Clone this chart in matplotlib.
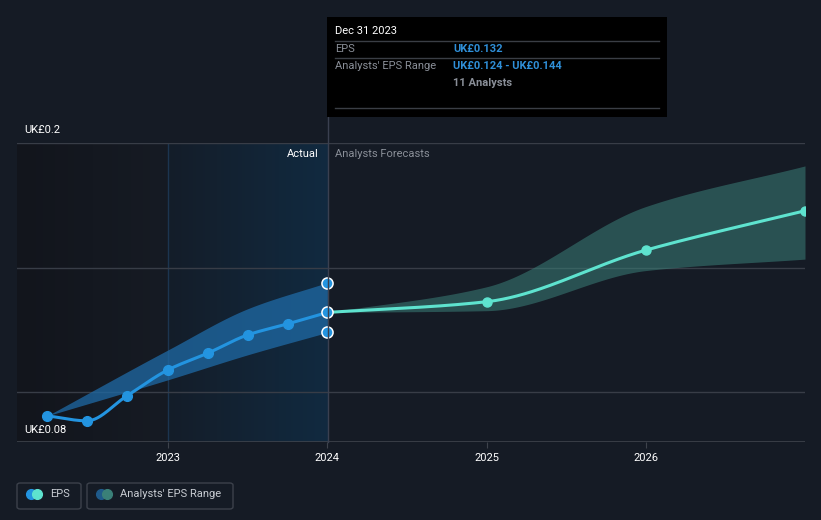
import numpy as np
import matplotlib
matplotlib.use("Agg")
import matplotlib.pyplot as plt
from matplotlib.patches import FancyBboxPatch, Rectangle
from matplotlib.lines import Line2D

plt.rcParams['font.family'] = ['Roboto', 'DejaVu Sans']

# actual EPS (quarterly, trailing)
act_x = [2022.24, 2022.49, 2022.74, 2023.0, 2023.25, 2023.5, 2023.75, 2024.0]
act_y = [0.0905, 0.0885, 0.0985, 0.109, 0.1157, 0.123, 0.1274, 0.132]
# analysts' range over the actual period
act_rng_x = [2022.24, 2023.0, 2023.5, 2024.0]
act_lo = [0.0905, 0.105, 0.115, 0.124]
act_hi = [0.0905, 0.117, 0.1335, 0.144]

# forecasts
fc_x = [2024.0, 2025.0, 2026.0, 2027.0]
fc_y = [0.132, 0.1363, 0.157, 0.1728]
fc_lo = [0.132, 0.1327, 0.1488, 0.1534]
fc_hi = [0.132, 0.1423, 0.1745, 0.1908]

year_ticks = [2023, 2024, 2025, 2026]

BG = '#151b25'
W, H = 821, 520


def pchip(x, y, n=200):
    x = np.asarray(x, float)
    y = np.asarray(y, float)
    h = np.diff(x)
    d = np.diff(y) / h
    m = np.zeros_like(y)
    m[0], m[-1] = d[0], d[-1]
    for k in range(1, len(x) - 1):
        if d[k - 1] * d[k] > 0:
            w1 = 2 * h[k] + h[k - 1]
            w2 = h[k] + 2 * h[k - 1]
            m[k] = (w1 + w2) / (w1 / d[k - 1] + w2 / d[k])
    xs = np.linspace(x[0], x[-1], n)
    idx = np.clip(np.searchsorted(x, xs) - 1, 0, len(x) - 2)
    t = (xs - x[idx]) / h[idx]
    h00 = 2 * t**3 - 3 * t**2 + 1
    h10 = t**3 - 2 * t**2 + t
    h01 = -2 * t**3 + 3 * t**2
    h11 = t**3 - t**2
    ys = h00 * y[idx] + h10 * h[idx] * m[idx] + h01 * y[idx + 1] + h11 * h[idx] * m[idx + 1]
    return xs, ys


fig = plt.figure(figsize=(W / 100, H / 100), dpi=100)
fig.patch.set_facecolor(BG)
ax = fig.add_axes([17 / W, (H - 442) / H, 788 / W, 299 / H])
ax.set_facecolor(BG)
x0, x1 = 2022.05, 2027.0
y0, y1 = 0.08, 0.2
ax.set_xlim(x0, x1)
ax.set_ylim(y0, y1)

# background shading
g = np.linspace(0, 1, 256).reshape(1, -1)
dark = matplotlib.colors.LinearSegmentedColormap.from_list('d', ['#12151c', '#161b24'])
ax.imshow(g, cmap=dark, extent=[x0, 2023.0, y0, y1], aspect='auto', zorder=0,
          interpolation='bilinear')
blue = matplotlib.colors.LinearSegmentedColormap.from_list('b', ['#141d29', '#112a40'])
ax.imshow(g, cmap=blue, extent=[2023.0, 2024.0, y0, y1], aspect='auto', zorder=0,
          interpolation='bilinear')
ax.axvline(2023.0, color='#1c3550', lw=1, zorder=1)

# gridlines
for v in [0.1, 0.15, 0.2]:
    ax.axhline(v, color='#383d47', lw=1, zorder=1)
ax.axhline(0.08, color='#3e434c', lw=1.2, zorder=1)

# ranges
xs, lo = pchip(act_rng_x, act_lo)
_, hi = pchip(act_rng_x, act_hi)
ax.fill_between(xs, lo, hi, color='#1f6aa6', alpha=0.75, lw=0, zorder=2)
xs, lo = pchip(fc_x, fc_lo)
_, hi = pchip(fc_x, fc_hi)
ax.fill_between(xs, lo, hi, color='#3a7f78', alpha=0.55, lw=0, zorder=2)

# lines
xs, ys = pchip(fc_x, fc_y)
ax.plot(xs, ys, color='#5ee3cf', lw=2.2, zorder=3, solid_capstyle='round')
ax.plot(fc_x[1:], fc_y[1:], 'o', color='#5ee3cf', ms=6.5, zorder=4)
xs, ys = pchip(act_x, act_y)
ax.plot(xs, ys, color='#2394e0', lw=2.2, zorder=3, solid_capstyle='round')
ax.plot(act_x[:-1], act_y[:-1], 'o', color='#2394e0', ms=7, zorder=4)
ax.plot([2024.0] * 3, [act_y[-1], act_lo[-1], act_hi[-1]], 'o', color='#2394e0',
        mec='white', mew=1.1, ms=8, zorder=5)

ax.set_xticks(year_ticks)
ax.set_xticklabels([str(y) for y in year_ticks])
ax.tick_params(axis='x', colors='#3e434c', labelcolor='white', labelsize=8, length=4, pad=4)
ax.set_yticks([])
for s in ax.spines.values():
    s.set_visible(False)

# axis labels
fig.text(24 / W, 1 - 130 / H, 'UK£0.2', color='white', fontsize=8, va='center')
fig.text(24 / W, 1 - 430 / H, 'UK£0.08', color='white', fontsize=8, va='center')
fig.text(319 / W, 1 - 154 / H, 'Actual', color='white', fontsize=8, va='center', ha='right')
fig.text(335 / W, 1 - 154 / H, 'Analysts Forecasts', color='#8a8f98', fontsize=8, va='center')

# divider line through the tooltip
fig.add_artist(Line2D([327.5 / W, 327.5 / W], [1 - 442 / H, 1 - 117 / H], color='#3a4050', lw=1))

# tooltip
fig.add_artist(Rectangle((327 / W, 1 - 117 / H), 340 / W, 100 / H, transform=fig.transFigure,
                         facecolor='black', edgecolor='none', zorder=5))
for yy in [41, 58, 108]:
    fig.add_artist(Line2D([335 / W, 659 / W], [1 - yy / H] * 2, color='#3a3e45', lw=1, zorder=6))
fig.text(335 / W, 1 - 31 / H, 'Dec 31 2023', color='white', fontsize=8, va='center', zorder=7)
fig.text(335 / W, 1 - 49 / H, 'EPS', color='#8a8f98', fontsize=8, va='center', zorder=7)
fig.text(453 / W, 1 - 49 / H, 'UK£0.132', color='#2f8fd8', fontsize=8, va='center',
         weight='bold', zorder=7)
fig.text(335 / W, 1 - 66 / H, "Analysts' EPS Range", color='#8a8f98', fontsize=8, va='center', zorder=7)
fig.text(453 / W, 1 - 66 / H, 'UK£0.124 - UK£0.144', color='#2f8fd8', fontsize=8, va='center',
         weight='bold', zorder=7)
fig.text(453 / W, 1 - 83 / H, '11 Analysts', color='#8a8f98', fontsize=8, va='center',
         weight='bold', zorder=7)

# legend
for lx, lw_ in [(17, 64), (87, 146)]:
    fig.add_artist(FancyBboxPatch((lx / W, 1 - 509 / H), lw_ / W, 26 / H,
                                  boxstyle='round,pad=0,rounding_size=0.004',
                                  transform=fig.transFigure, facecolor='none',
                                  edgecolor='#3c414b', lw=1))
legend_icons = [(31, '#2394e0'), (37, '#5ee3cf'), (101, '#1f5a8a'), (107, '#3a8078')]
for cx, col in legend_icons:
    fig.add_artist(Line2D([cx / W], [1 - 494 / H], marker='o', color=col, ms=7, lw=0))
fig.text(50 / W, 1 - 494 / H, 'EPS', color='#c8ccd2', fontsize=8, va='center')
fig.text(120 / W, 1 - 494 / H, "Analysts' EPS Range", color='#c8ccd2', fontsize=8, va='center')

fig.savefig('out.png', dpi=100, facecolor=BG)
